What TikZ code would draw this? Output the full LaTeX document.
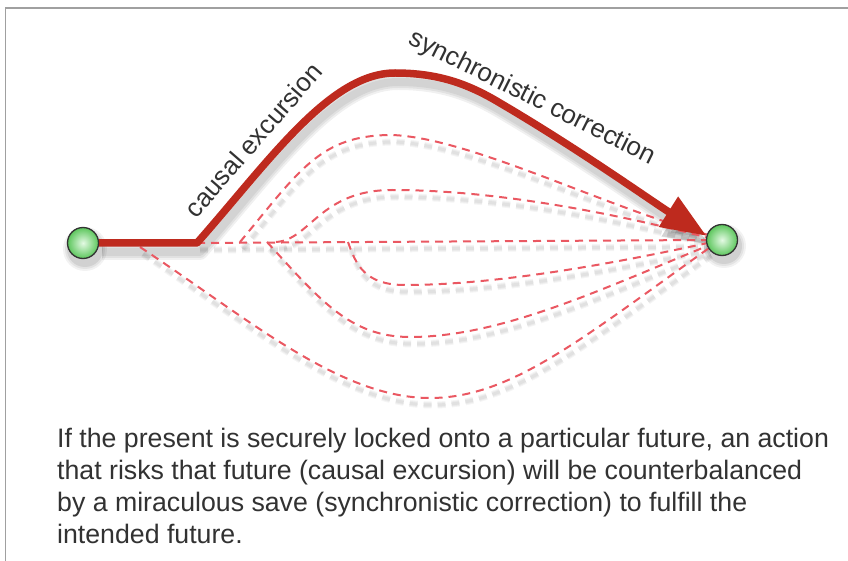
\documentclass[tikz,border=0pt]{standalone}
\usepackage{fontspec}
\setmainfont{Liberation Sans}
\usetikzlibrary{arrows.meta}
\definecolor{pathred}{RGB}{190,42,30}
\definecolor{dashred}{RGB}{234,88,98}
\definecolor{ink}{RGB}{50,50,50}
\definecolor{framegray}{RGB}{160,160,160}
\definecolor{nodegreen}{RGB}{92,198,92}
\definecolor{nodelight}{RGB}{228,250,228}
\pgfdeclarelayer{canvasbg}
\pgfdeclarelayer{shadows}
\pgfdeclarelayer{paths}
\pgfsetlayers{canvasbg,shadows,paths,main}

% the fan of alternative histories between the two endpoints
\newcommand\fanlines[1]{%
  \draw[#1] (bend) -- (goal.180);
  \draw[#1] (s1) .. controls (300,170) and (320,135) .. (392,135)
                 .. controls (470,138) and (600,205) .. (goal.160);
  \draw[#1] (s2) .. controls (310,240) and (320,190) .. (392,190)
                 .. controls (500,190) and (620,215) .. (goal.170);
  \draw[#1] (s3) .. controls (356,265) and (365,285) .. (405,285)
                 .. controls (500,285) and (620,262) .. (goal.192);
  \draw[#1] (s4) .. controls (320,300) and (350,337) .. (410,337)
                 .. controls (500,337) and (600,290) .. (goal.202);
  \draw[#1] (s5) .. controls (250,320) and (340,398) .. (430,398)
                 .. controls (510,398) and (580,340) .. (goal.212);
}
% the actual history: excursion and correction
\newcommand\mainpath[1]{%
  \draw[#1] (start) -- (bend) .. controls (270,160) and (330,73) .. (395,73)
            .. controls (440,73) and (470,85) .. (500,103)
            .. controls (580,150) and (650,200) .. (goal.165);
}

\begin{document}
\begin{tikzpicture}[x=1pt,y=-1pt,
  endpoint/.style={circle, minimum size=31pt, inner sep=0pt, draw=black!80,
    line width=1.3pt, inner color=nodelight, outer color=nodegreen},
  excursion/.style={draw=pathred, line width=7.5pt, line join=round,
    -{Triangle[length=45pt,width=34pt]}},
  excursionshadow/.style={draw=black, line width=#1, opacity=0.06, line join=round,
    -{Triangle[length=45pt,width=34pt]}},
  fate/.style={draw=dashred, line width=2pt, dash pattern=on 8pt off 6pt},
  fateshadow/.style={draw=black, line width=#1, opacity=0.04, dash pattern=on 8pt off 6pt},
  tag/.style={text=ink, font=\fontsize{26}{30}\selectfont, inner sep=0pt},
]
\useasboundingbox (0,0) rectangle (848,561);
\begin{pgfonlayer}{canvasbg}
  \fill[white] (0,0) rectangle (848,561);
\end{pgfonlayer}
\draw[framegray, line width=1.5pt] (5.5,561) -- (5.5,8) -- (848,8);

\node[endpoint] (start) at (83,243) {};
\node[endpoint] (goal) at (722,240) {};

\coordinate (bend) at (197,243);
\coordinate (s1) at (240,242);
\coordinate (s2) at (276,242);
\coordinate (s3) at (348,242);
\coordinate (s4) at (267,242);
\coordinate (s5) at (140,247);

\begin{pgfonlayer}{shadows}
  \begin{scope}[transform canvas={shift={(3,7)}}]
    \fanlines{fateshadow=7pt}
    \fanlines{fateshadow=5pt}
    \fanlines{fateshadow=3pt}
  \end{scope}
  \begin{scope}[transform canvas={shift={(3,9)}}]
    \mainpath{excursionshadow=16pt}
    \mainpath{excursionshadow=12pt}
    \mainpath{excursionshadow=8pt}
  \end{scope}
  \foreach \r/\o in {22/0.05,20/0.06,18/0.08} {
    \fill[black, opacity=\o] ([shift={(2,6)}]start.center) circle (\r pt);
    \fill[black, opacity=\o] ([shift={(2,6)}]goal.center) circle (\r pt);
  }
\end{pgfonlayer}

\begin{pgfonlayer}{paths}
  \fanlines{fate}
  \mainpath{excursion}
\end{pgfonlayer}

\node[tag, rotate=49] (cause) at (253,140) {causal excursion};
\node[tag, rotate=-26.5] (sync) at (532,98) {synchronistic correction};

\node[text=ink, anchor=base west, inner sep=0pt] (caption) at (57,447)
  {\parbox[t]{790pt}{\fontsize{26.7}{32}\selectfont\raggedright
   If the present is securely locked onto a particular future, an action\\
   that risks that future (causal excursion) will be counterbalanced\\
   by a miraculous save (synchronistic correction) to fulfill the\\
   intended future.}};
\end{tikzpicture}
\end{document}
